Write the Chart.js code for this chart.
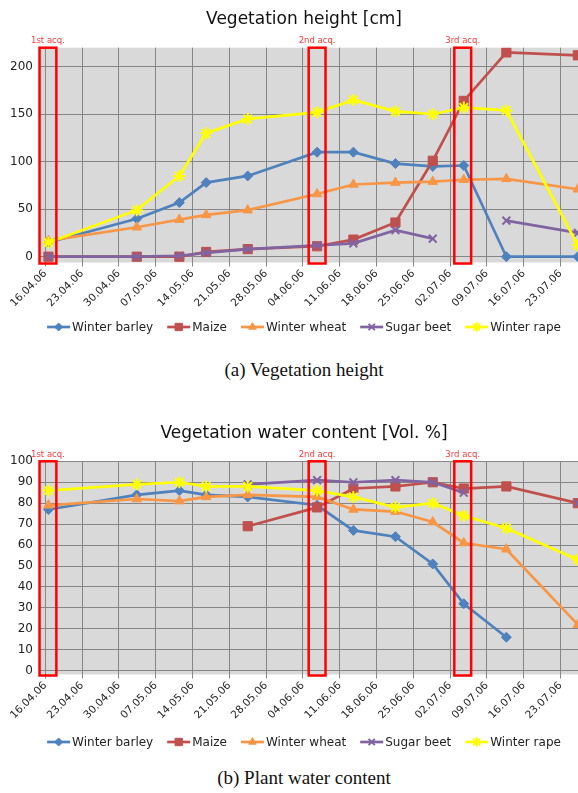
<!DOCTYPE html>
<html><head><meta charset="utf-8">
<script src="https://cdn.jsdelivr.net/npm/chart.js@4/dist/chart.umd.min.js"></script>
<style>
html,body{margin:0;padding:0;background:#fff;}
#wrap{position:relative;width:578px;height:793px;overflow:hidden;background:#fff;}
.cv{position:absolute;left:0;width:608px;height:350px;}
.cap{position:absolute;left:0;width:608px;text-align:center;font-family:"Liberation Serif","Times New Roman",serif;font-size:19px;color:#111;line-height:22px;}
</style></head><body>
<div id="wrap">
<div class="cv" style="top:0"><canvas id="c1" width="608" height="350"></canvas></div>
<div class="cap" style="top:359px">(a) Vegetation height</div>
<div class="cv" style="top:410px"><canvas id="c2" width="608" height="350"></canvas></div>
<div class="cap" style="top:767px">(b) Plant water content</div>
</div>
<script>
// ---------- data ----------
const seriesNames = ["Winter barley","Maize","Winter wheat","Sugar beet","Winter rape"];
// sampling dates, in days after 16.04.06
const sampleDays = [0.6,17.4,25.5,30.6,38.5,51.7,58.6,66.6,73.7,79.6,87.7,101.3];
const tickLabels = ["16.04.06","23.04.06","30.04.06","07.05.06","14.05.06","21.05.06","28.05.06","04.06.06","11.06.06","18.06.06","25.06.06","02.07.06","09.07.06","16.07.06","23.07.06"];
const acqLabels = ["1st acq.","2nd acq.","3rd acq."];
const acqDays = [0.5,51.7,79.4];

// Vegetation height [cm]
const heightBarley = [15,40,57,78,85,110,110,98,95,96,0,0];
const heightMaize  = [0,0,0,5,8,11,18,36,101,164,215,212];
const heightWheat  = [17,31,39,44,49,66,76,78,79,81,82,71];
const heightBeet   = [0,0,1,4,8,12,14,28,19,null,38,25];
const heightRape   = [15,49,85,130,145,152,165,153,150,157,154,12];
const heightTicks  = [0,50,100,150,200];

// Vegetation water content [Vol. %]
const waterBarley = [77,84,86,84,83,79,67,64,51,32,16,null];
const waterMaize  = [null,null,null,null,69,78,87,88,90,87,88,80];
const waterWheat  = [79,82,81,83,84,83,77,76,71,61,58,22];
const waterBeet   = [null,null,null,null,89,91,90,91,90,85,null,80];
const waterRape   = [86,89,90,88,88,86,83,78,80,74,68,53];
const waterTicks  = [0,10,20,30,40,50,60,70,80,90,100];

// ---------- styling ----------
const colors = ['#4f81bd','#c0504d','#f79646','#8064a2','#ffff00'];
const pStyles = ['rectRot','rect','triangle','crossRot','star'];
const pRadius = [5,6.5,5.5,5.5,6];
const FONT = '"DejaVu Sans", sans-serif';
Chart.defaults.font.family = FONT;
Chart.defaults.color = '#222';

function makeDatasets(series){
  return series.map((vals,i)=>({
    label: seriesNames[i],
    data: sampleDays.map((d,k)=>({x:d,y:vals[k]})),
    borderColor: colors[i],
    backgroundColor: colors[i],
    borderWidth: 2.7,
    pointStyle: pStyles[i],
    pointRadius: pRadius[i],
    pointBorderWidth: (i>=3)?2:1,
    pointBackgroundColor: colors[i],
    pointBorderColor: colors[i],
    tension: 0,
    spanGaps: false,
    order: 5-i
  }));
}

function decoPlugin(title, titleY, legendY){
  return {
    id:'deco',
    beforeDraw(chart){
      const {ctx, chartArea:a} = chart;
      ctx.save();
      ctx.fillStyle = '#d9d9d9';
      ctx.fillRect(a.left, a.top, a.right-a.left, a.bottom-a.top);
      ctx.restore();
    },
    afterDatasetsDraw(chart){
      const {ctx, chartArea:a} = chart;
      const xs = chart.scales.x;
      ctx.save();
      acqDays.forEach((d,i)=>{
        const x1 = xs.getPixelForValue(d-1.6), x2 = xs.getPixelForValue(d+1.6);
        ctx.strokeStyle = '#ff0000';
        ctx.lineWidth = 2.5;
        ctx.strokeRect(x1, a.top, x2-x1, a.bottom-a.top+1);
        ctx.fillStyle = '#ff3838';
        ctx.font = '8.5px '+FONT;
        ctx.textAlign = 'center';
        ctx.textBaseline = 'middle';
        ctx.fillText(acqLabels[i], (x1+x2)/2, a.top-6.5);
      });
      ctx.restore();
    },
    afterDraw(chart){
      const ctx = chart.ctx;
      ctx.save();
      ctx.fillStyle = '#111';
      ctx.font = '17px '+FONT;
      ctx.textAlign = 'center';
      ctx.textBaseline = 'middle';
      ctx.fillText(title, 304, titleY);
      // legend
      ctx.font = '12px '+FONT;
      const lineLen = 23, gapT = 2, gapI = 14;
      const w = seriesNames.map(n=>lineLen+gapT+ctx.measureText(n).width);
      const total = w.reduce((s,v)=>s+v,0)+gapI*(w.length-1);
      let x = 304 - total/2;
      seriesNames.forEach((n,i)=>{
        ctx.strokeStyle = colors[i];
        ctx.lineWidth = 2.7;
        ctx.beginPath(); ctx.moveTo(x, legendY); ctx.lineTo(x+lineLen, legendY); ctx.stroke();
        ctx.fillStyle = colors[i];
        ctx.lineWidth = (i>=3)?2:1;
        Chart.helpers.drawPoint(ctx, {pointStyle:pStyles[i], radius:pRadius[i]*0.8, rotation:0, borderWidth:(i>=3)?2:1}, x+lineLen/2, legendY);
        ctx.fillStyle = '#222';
        ctx.textAlign = 'left';
        ctx.textBaseline = 'middle';
        ctx.fillText(n, x+lineLen+gapT, legendY+0.5);
        x += w[i] + gapI;
      });
      ctx.restore();
    }
  };
}

function makeChart(id, series, yMin, yMax, yTicks, topPad, xAxisH, title, titleY, legendY){
  return new Chart(document.getElementById(id), {
    type:'line',
    data:{datasets: makeDatasets(series)},
    options:{
      responsive:false, animation:false, events:[],
      layout:{padding:{top:topPad, right:20, left:0, bottom:0}},
      plugins:{legend:{display:false}, title:{display:false}, tooltip:{enabled:false}},
      scales:{
        x:{
          type:'linear', min:-1.01, max:103.23,
          afterBuildTicks(s){ s.ticks = tickLabels.map((l,i)=>({value:i*7})); },
          afterFit(s){ s.height = xAxisH; },
          ticks:{autoSkip:false, minRotation:45, maxRotation:45, padding:1, color:'#222', font:{size:10.5},
                 callback:(v)=>tickLabels[Math.round(v/7)]},
          grid:{color:'#868686', lineWidth:1, tickLength:4},
          border:{display:false}
        },
        y:{
          min:yMin, max:yMax,
          afterBuildTicks(s){ s.ticks = yTicks.map(v=>({value:v})); },
          afterFit(s){ s.width = 40; },
          ticks:{padding:7, color:'#222', font:{size:12}},
          grid:{color:'#868686', lineWidth:1, drawTicks:false},
          border:{display:false}
        }
      }
    },
    plugins:[decoPlugin(title, titleY, legendY)]
  });
}

makeChart('c1', [heightBarley,heightMaize,heightWheat,heightBeet,heightRape], -6.1, 220, heightTicks, 47.7, 87.5, 'Vegetation height [cm]', 20, 327);
makeChart('c2', [waterBarley,waterMaize,waterWheat,waterBeet,waterRape], -1.8, 100, waterTicks, 51.3, 85.5, 'Vegetation water content [Vol. %]', 24, 332);
</script>
</body></html>
